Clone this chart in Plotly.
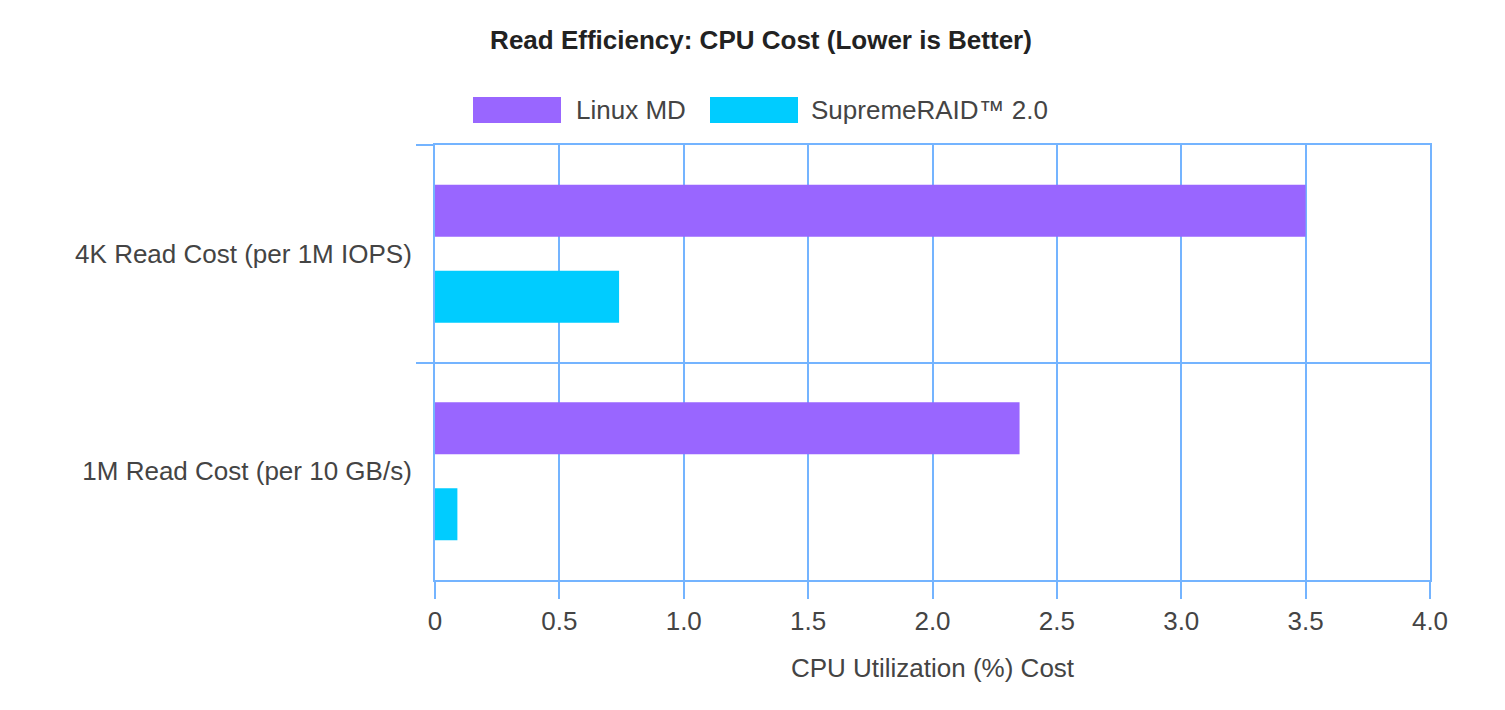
import plotly.graph_objects as go

# ---- data ----
categories = ["4K Read Cost (per 1M IOPS)", "1M Read Cost (per 10 GB/s)"]
series_names = ["Linux MD", "SupremeRAID™ 2.0"]
linux_md = [3.5, 2.35]
supremeraid = [0.74, 0.09]
x_ticks = [0, 0.5, 1.0, 1.5, 2.0, 2.5, 3.0, 3.5, 4.0]
x_tick_labels = ["0", "0.5", "1.0", "1.5", "2.0", "2.5", "3.0", "3.5", "4.0"]

# ---- style ----
W, H = 1505, 710
ML, MR, MT, MB = 435, 75, 145, 130
PW, PH = W - ML - MR, H - MT - MB
FONT = "Liberation Sans, Arial, sans-serif"
GRID = "#74b4ff"
COLORS = ["#9966ff", "#00ccff"]
TXT = "#444444"
FS = 26

def px_x(x):
    return (x - ML) / PW

def px_y(y):
    return (H - MB - y) / PH

fig = go.Figure()
for name, vals, col in zip(series_names, [linux_md, supremeraid], COLORS):
    fig.add_trace(go.Bar(
        y=categories, x=vals, name=name, orientation="h",
        marker=dict(color=col, line=dict(width=0)),
        showlegend=False,
    ))

shapes = []
annotations = []
# custom legend (wide swatches like the reference)
legend_items = [(473, 561, 574), (710, 798, 809)]
for (x0, x1, tx), name, col in zip(legend_items, series_names, COLORS):
    shapes.append(dict(type="rect", xref="paper", yref="paper",
                       x0=px_x(x0), x1=px_x(x1), y0=px_y(123), y1=px_y(97),
                       fillcolor=col, line=dict(width=0), layer="above"))
    annotations.append(dict(xref="paper", yref="paper", x=px_x(tx), y=px_y(110),
                            xanchor="left", yanchor="middle", showarrow=False,
                            text=name, font=dict(family=FONT, size=FS, color=TXT)))

fig.update_layout(
    width=W, height=H,
    margin=dict(l=ML, r=MR, t=MT, b=MB, pad=0),
    paper_bgcolor="white", plot_bgcolor="white",
    barmode="group", bargap=0.21, bargroupgap=0.395,
    title=dict(text="<b>Read Efficiency: CPU Cost (Lower is Better)</b>",
               x=761 / W, xref="container", xanchor="center",
               y=1 - 40 / H, yref="container", yanchor="middle",
               font=dict(family=FONT, size=FS, color="#222222")),
    font=dict(family=FONT, size=FS, color=TXT),
    shapes=shapes, annotations=annotations,
    xaxis=dict(
        range=[0, 4], tickvals=x_ticks, ticktext=x_tick_labels,
        showgrid=True, gridcolor=GRID, gridwidth=2,
        zeroline=False, showline=True, linecolor=GRID, linewidth=2, mirror=True,
        ticks="outside", ticklen=17, tickwidth=2, tickcolor=GRID,
        tickfont=dict(family=FONT, size=FS, color=TXT),
        title=dict(text="CPU Utilization (%) Cost", standoff=24,
                   font=dict(family=FONT, size=FS, color=TXT)),
    ),
    yaxis=dict(
        type="category", categoryorder="array", categoryarray=categories,
        autorange="reversed", tickson="boundaries",
        showgrid=True, gridcolor=GRID, gridwidth=2,
        zeroline=False, showline=True, linecolor=GRID, linewidth=2, mirror=True,
        ticks="outside", ticklen=17, tickwidth=2, tickcolor=GRID,
        ticklabelstandoff=16,
        tickfont=dict(family=FONT, size=FS, color=TXT),
    ),
)

fig.write_html("out.html")
